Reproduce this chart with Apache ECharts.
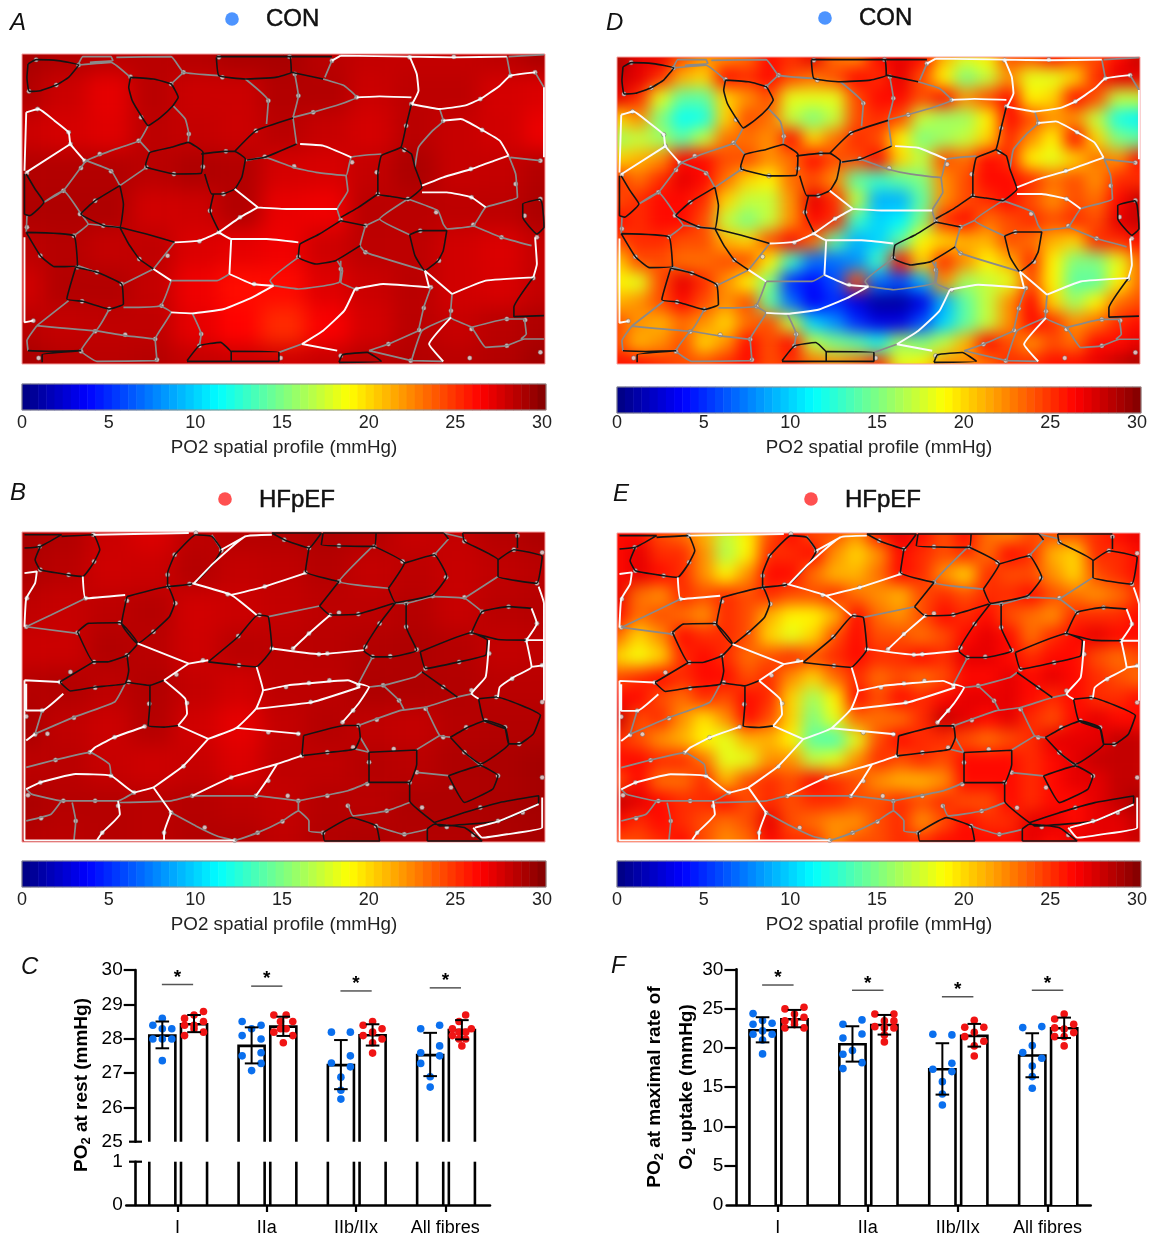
<!DOCTYPE html>
<html><head><meta charset="utf-8">
<style>
html,body{margin:0;padding:0;background:#fff;width:1154px;height:1234px;overflow:hidden}
.wrap{position:absolute;overflow:hidden}
.field{position:absolute}
#main{position:absolute;left:0;top:0;width:1154px;height:1234px;z-index:5;filter:blur(0.4px)}
</style>
<script src="https://cdn.jsdelivr.net/npm/echarts@6/dist/echarts.min.js"></script>
</head><body>
<div id="fields"></div>
<div id="main"></div>
<script>
/* ---------- PO2 field readings (mmHg), rows top to bottom ---------- */
const fieldA=[
[28.8,28.5,28.3,28.3,28.4,28.7,28.8,28.3,28,28,28,28.2,28.7],
[28.5,27.8,27,28.3,27.8,27.8,28.5,28.5,27.8,28.2,28.2,27.5,27.3],
[27.8,27.5,27.2,28.2,28,27.8,28.3,27.9,27.5,28.3,27.9,27.6,26.8],
[28.5,28.5,28.5,28.3,28.6,28.5,27.5,27.4,28,28.7,27.9,28,28.5],
[28.6,28.6,28.6,27.6,27.7,28.5,26.9,26.7,28.3,28.3,28.2,28.2,28.7],
[28.2,28.4,28,28.1,27.3,27,26.7,27.7,28.2,28.2,27.6,27.3,28],
[27.6,28.5,28.5,28,26.7,25.9,26,27.2,27.8,28.3,27.6,27.4,28],
[28.3,28,28.1,28.1,27,26.2,25,26.4,27.5,28.3,27.9,28.3,28.6],
[28.8,28.4,28.3,28.4,28,27.8,27.7,27.9,28.3,28.5,28.3,28.5,29]];
const fieldB=[
[28.8,28.5,27.8,27.3,28.2,28.4,28.4,28.6,28.4,27.9,28,28.4,28.7],
[28.6,28.3,27.7,27.8,28.4,28,28.1,28.4,28,28.2,27.9,28.1,28.3],
[28.1,27.9,28.2,28.4,27.6,27.8,28,28.2,28.2,28.4,27.9,28.3,28.4],
[27.8,27.8,28.5,28.3,27.7,28.3,28.2,28.3,28.5,28.6,28.4,28,28.1],
[28.4,28.5,28.2,28.5,28,27.6,28.2,28.2,28.6,28.6,28.5,28.3,28.3],
[28.7,28.1,27.8,28.4,27.6,27,28,28.4,28.1,28,28.4,28.5,28.5],
[28.2,28.3,27.9,27.7,27.9,27.3,28.1,28.1,28.4,28.3,28.6,28.7,28.9],
[28.7,28.4,28.4,28.3,28.4,28.2,28,28.4,28.3,28.6,28.6,28.7,28.9],
[28.4,28.3,28.4,28.3,28.5,28.5,28.1,28.5,28.6,28.5,28.5,28.7,28.8]];
const fieldD=[
[29,27,27,24,22,22,23,26,25,27,23,22,26,27,26,21,18,19,24,24,26,24,24,26,28],
[28,27,25,21,20,26,25,26,24,23,24,26,25,27,24,19,15,17,22,18,18,20,25,27,27],
[27,25,18,14,14,20,22,24,18,18,18,24,26,26,24,26,22,24,26,19,20,26,24,17,17],
[20,22,15,11.5,12,20,24,23,17,15,17,24,25,24,17,16,16,19,26,24,22,22,17,12,11],
[16,17,16,14,17,23,23,22,26,20,23,25,24,19,15,16,17,20,25,22,19,26,20,15,14],
[20,21,22,26,26,24,24,22,23,26,24,24,26,20,17,24,23,26,25,19,18,20,23,22,26],
[25,23,25,27,26,23,20,19,23,24,22,14,13,14,15,22,24,26,26,25,23,24,22,25,25],
[24,25,26,26,25,20,17,17,22,27,25,17,9,9,14,22,24,25,26,24,22,24,23,26,28],
[26,25,26,26,24,17,15,17,22,26,25,13,10,11,15,25,26,23,24,25,24,25,24,27,28],
[24,25,25,24,24,21,20,24,26,23,14,9,10,14,19,20,21,21,24,23,21,20,25,25,26],
[20,24,24,23,23,24,24,19,13,7,7,8,13,26,20,25,22,19,21,25,19,15,15,18,23],
[19,18,24,27,25,22,19,15,5,4,6,24,7,6,9,22,16,17,18,24,19,14,14,19,23],
[21,22,24,26,24,22,24,14,7,3.5,5,3,1,1,3,9,14,17,22,26,20,16,19,23,24],
[24,22,21,23,22,20,23,24,17,10,8,5,3,3,6,10,14,17,22,26,25,22,23,25,26],
[24,21,22,24,20,22,26,24,26,17,15,14,12,16,15,17,21,26,24,22,24,23,26,26,27],
[26,26,25,24,24,25,26,24,25,23,22,23,25,18,19,22,22,23,25,25,26,26,27,28,29]];
const fieldE=[
[26,26,24,23,21,17,19,24,26,24,24,22,26,27,26,24,26,23,22,24,24,24,25,26,27],
[26,27,25,25,22,16.5,19,25,25,26,22,20,22,26,25,24,25,23,26,25,21,20,25,25,26],
[26,27,26,25,22,19,22,26,26,23,21,21,23,26,25,22,20,25,24,24,22,20,24,25,26],
[27,23,22,25,24,25,24,25,24,24,25,23,22,21,24,25,24,25,25,26,24,23,22,23,25],
[26,23,24,23,22,25,24,21,19,19,21,26,23,22,24,26,25,26,24,23,22,25,25,25,26],
[23,20,22,26,25,25,24,20,18,20,24,26,24,24,23,24,26,27,26,23,25,26,27,26,26],
[20,18.5,20,25,26,25,23,24,25,24,25,26,25,25,26,25,27,27,26,25,26,26,24,23,24],
[24,25,26,25,26,26,24,25,22,20,23,25,23,24,23,24,26,26,27,26,27,26,25,24,23],
[26,26,24,23,25,24,26,25,20,16,19,26,24,26,25,26,27,27,27,26,25,26,25,25,26],
[28,24,25,22,19.5,22,26,24,20,15,18,23,23,23,25,28,27,26,27,25,24,26,27,26,26],
[25,24,22,21,19,18,21,21,19,14,13.5,18,24,26,25,25,24,23,24,25,27,27,27,28,28],
[26,26,25,25,23,18,18,22,22,17,18,22,25,24,25,24,26,26,26,25,26,27,28,28,28],
[24,26,23,23,25,21,24,25,24,26,25,24,22,21,21,22,26,26,26,25,26,27,27,28,28],
[28,27,26,25,25,26,24,25,24,25,25,24,24,25,24,25,24,24,26,25,26,26,27,28,29],
[26,25,26,25,24,23,24,27,24,23,22,22,24,25,22,24,26,25,25,27,27,26,27,27,28],
[24,24,25,26,24,22,23,26,25,25,22,24,24,25,25,26,26,26,26,27,26,27,27,27,28]];

/* ---------- fibre outlines ---------- */
const frameCon=[48,1528,170,1100];
const frameHf=[48,1528,157,1083];
const conBlack=[
[[65,200],[88,187],[150,190],[208,203],[180,240],[145,263],[100,280],[68,282],[62,240],[65,200]],
[[355,240],[420,245],[470,260],[490,300],[475,325],[440,360],[405,385],[385,355],[360,310],[350,270],[355,240]],
[[598,180],[605,235],[680,245],[765,240],[810,225],[805,178],[598,178]],
[[805,178],[925,178]],[[810,225],[900,245]],
[[398,500],[410,465],[470,450],[518,435],[560,465],[555,528],[480,530],[400,510],[398,500]],
[[555,470],[620,462],[650,462],[680,485],[670,540],[650,575],[615,590],[585,590],[565,530]],
[[650,462],[710,400],[815,362]],[[825,440],[735,480],[685,488]],
[[1150,320],[1135,385],[1120,450],[1065,475],[1055,530],[1055,590],[1090,597],[1140,605],[1180,570],[1160,510],[1150,470],[1120,450]],
[[590,590],[580,640],[605,700]],
[[60,530],[85,575],[110,615],[70,655],[55,650],[55,530]],
[[325,565],[255,610],[215,650],[280,685],[325,690],[335,620],[325,565]],
[[60,705],[195,715],[205,805],[140,808],[100,775],[60,705]],
[[325,690],[400,710],[480,735]],[[325,690],[350,740],[380,785],[420,815]],
[[200,810],[175,905],[220,912],[295,935],[335,920],[330,860],[260,825],[200,810]],
[[950,670],[1020,685]],[[950,670],[890,710],[835,740],[830,780],[880,800],[935,790],[1005,745]],[[950,660],[1000,630],[1055,590]],
[[1145,712],[1175,700],[1250,700],[1240,760],[1225,790],[1188,820],[1160,775],[1145,712]],
[[1515,605],[1465,620],[1465,660],[1505,710],[1525,690],[1520,620],[1515,605]],
[[1495,840],[1440,930],[1440,958],[1525,955]],
[[65,1060],[130,1062],[215,1060]],[[105,1095],[105,1072],[215,1060]],
[[515,1090],[550,1045],[610,1035],[640,1065],[640,1092],[515,1092]],
[[640,1062],[775,1065],[775,1092],[640,1092]],
[[945,1095],[955,1072],[1025,1065],[1065,1092],[945,1095]]];
const conGrey=[
[[208,203],[300,195],[355,240]],[[208,200],[220,178],[300,178],[305,190],[240,195]],
[[315,180],[470,178],[505,225],[605,235]],[[470,260],[505,225]],
[[475,325],[510,365],[520,410],[518,435]],
[[405,385],[380,430],[300,460],[230,490],[215,510],[165,580],[110,615]],
[[380,430],[410,465]],[[230,490],[300,520],[325,565]],[[400,510],[325,565]],
[[680,245],[745,310],[740,380]],
[[820,230],[830,295],[815,360],[870,345],[950,320],[995,300],[960,265],[900,245]],
[[815,362],[825,440]],[[925,190],[905,240]],
[[1230,335],[1240,370],[1210,400],[1170,450],[1160,510]],
[[680,490],[735,480],[815,510],[880,525],[965,535],[980,480],[1065,470]],
[[965,535],[970,580],[940,635],[950,670]],
[[1420,178],[1430,235]],[[1425,178],[1525,172]],[[1500,225],[1525,270]],
[[1425,475],[1445,530],[1450,600],[1360,630],[1325,685],[1250,695]],
[[1430,480],[1515,490]],[[1325,685],[1405,720],[1490,745]],
[[1140,605],[1225,640],[1240,680],[1250,695]],[[1140,605],[1060,665],[1145,712]],
[[1020,685],[1060,665]],[[1020,685],[1005,745],[1020,765],[1188,820]],
[[1265,890],[1260,960],[1320,990],[1360,1050],[1420,1045],[1470,1025],[1525,1025]],
[[1260,960],[1180,1000],[1150,1090]],[[1205,870],[1185,930],[1170,1000]],
[[1470,965],[1475,1010],[1460,1025]],[[1320,990],[1420,965],[1470,965]],
[[1150,1090],[1030,1060]],[[1030,1060],[1085,1040],[1170,1000]],
[[420,815],[335,860]],[[470,850],[600,850],[635,830]],
[[470,850],[440,925],[335,930]],[[440,925],[470,945],[425,1025],[430,1090]],
[[180,910],[90,985]],[[90,985],[255,1000],[295,935]],[[90,985],[62,1030],[65,1060]],
[[255,1000],[340,1015],[425,1025]],[[255,1000],[215,1060],[260,1092],[430,1090]],
[[530,948],[555,1010],[550,1045]],[[760,865],[750,850],[830,780]],
[[760,865],[830,875],[945,855],[950,790]],[[940,790],[955,820],[950,855],[990,875]],
[[840,1040],[775,1065]],[[215,650],[235,680],[195,715]],[[62,655],[60,705]],
[[235,680],[325,690]],[[205,805],[260,825]],[[480,735],[420,815]],
[[110,615],[165,580],[215,650]],[[1150,1090],[1240,1092]]];
const conWhite=[
[[60,345],[95,335],[140,370],[180,405],[185,440],[225,490]],
[[60,345],[55,520]],[[55,720],[55,975],[80,970]],[[60,525],[185,440]],
[[1145,178],[1165,230],[1170,280],[1152,320]],[[950,175],[1145,178],[1270,180],[1420,178]],
[[925,190],[950,175]],
[[995,300],[1060,297],[1150,300]],
[[1150,320],[1230,335],[1300,325],[1345,305],[1400,265],[1430,235],[1500,225]],
[[1240,370],[1290,365],[1350,398],[1400,430],[1425,475]],
[[1180,565],[1240,540],[1320,515],[1385,490],[1425,475]],
[[1180,585],[1250,585],[1320,600],[1360,630]],
[[715,630],[800,635],[940,635]],
[[605,705],[640,725],[740,725],[830,735]],[[640,725],[635,830]],
[[605,705],[550,730],[480,735]],[[650,575],[715,630]],[[605,705],[665,660],[715,630]],
[[835,440],[900,445],[980,480]],
[[420,815],[470,850]],[[635,830],[700,860],[760,865]],
[[990,875],[1070,860],[1200,870]],[[1265,890],[1360,850],[1495,840]],
[[990,875],[960,940],[900,1000],[840,1040]],
[[760,865],[700,900],[620,935],[530,948],[470,945]],
[[840,1040],[940,1060]],[[1200,870],[1188,820],[1265,890]],
[[1500,720],[1505,800],[1495,840]],[[1525,270],[1525,480]],
[[1240,1092],[1200,1040],[1262,960]]];
const conNodes=[[88,187],[208,203],[145,263],[68,282],[92,335],[180,405],[185,440],[62,527],[225,490],[268,470],[378,430],[385,360],[355,238],[470,260],[505,225],[605,180],[615,240],[745,310],[830,295],[805,178],[925,190],[820,230],[995,300],[872,345],[520,410],[625,462],[560,508],[478,530],[400,510],[300,522],[215,512],[165,580],[255,610],[212,650],[278,685],[62,690],[195,715],[100,775],[205,810],[260,825],[330,860],[218,912],[295,935],[380,785],[460,775],[550,732],[605,705],[665,660],[580,640],[618,590],[735,478],[818,507],[710,400],[982,495],[1052,525],[1055,590],[1140,605],[1135,385],[1130,458],[1150,320],[1145,180],[1270,178],[1430,235],[1500,225],[1345,305],[1240,370],[1350,398],[1318,515],[1445,560],[1515,490],[1515,605],[1470,655],[1505,720],[1320,600],[1220,645],[1175,700],[1325,682],[1405,720],[1020,685],[950,668],[1020,765],[950,815],[830,778],[705,860],[995,875],[1205,870],[1228,790],[1495,842],[1185,932],[1262,940],[1172,998],[1320,995],[1420,965],[1472,968],[1420,1045],[1315,1082],[1148,1090],[1085,1040],[950,1075],[780,1082],[550,1045],[555,1010],[430,1087],[425,1025],[340,1012],[255,1002],[215,1062],[95,1082],[80,970],[443,925],[1515,1065]];

const hfBlack=[
[[55,165],[160,165],[100,200],[55,205]],
[[160,170],[250,165],[268,210],[250,250],[220,290],[180,285],[100,270],[85,240],[100,200]],
[[345,350],[460,320],[480,370],[465,410],[420,455],[375,490],[330,430],[345,350]],
[[205,455],[235,430],[325,428],[375,490],[345,525],[290,545],[250,545],[205,455]],
[[155,605],[250,545]],[[155,605],[185,632],[255,620],[340,610],[350,570],[345,525]],
[[340,605],[410,615],[450,600]],[[410,615],[410,670],[405,735],[450,740],[490,735]],
[[480,225],[540,165],[585,170],[612,210],[590,250],[535,310],[460,320],[460,280],[480,225]],
[[575,545],[660,470],[715,405],[745,410],[755,505],[710,560],[660,555],[575,545]],
[[755,160],[895,160],[860,205],[790,180],[755,160]],
[[900,160],[895,195],[1045,200],[1050,160],[900,160]],
[[1050,160],[1240,160],[1255,178]],
[[860,205],[850,275],[945,305]],[[1045,200],[1130,250],[1085,325]],
[[1130,250],[1215,225],[1250,290],[1210,345],[1105,368],[1085,325]],
[[1295,160],[1300,185],[1395,240],[1395,290],[1505,310],[1520,230],[1440,210],[1395,240]],
[[1450,165],[1450,205]],[[1295,160],[1450,160]],
[[890,378],[945,305]],[[890,378],[920,405],[1000,402],[1100,370]],
[[1105,368],[1060,430],[1015,510],[1040,530],[1090,530],[1165,510],[1135,440],[1135,370]],
[[1175,515],[1320,458],[1365,480],[1360,525],[1285,545],[1190,565],[1175,515]],
[[1320,458],[1395,478],[1475,480]],[[1320,458],[1350,395],[1425,380],[1490,385]],
[[1180,575],[1240,620],[1280,650]],
[[1340,655],[1390,650],[1515,705],[1495,760],[1455,790],[1425,790],[1415,745],[1355,720],[1340,655]],
[[1260,770],[1310,740],[1360,720],[1415,740],[1425,790],[1345,850],[1300,815],[1260,770]],
[[845,765],[960,735],[1000,735],[1005,770],[990,805],[920,815],[840,825],[845,765]],
[[1030,815],[1165,808],[1165,850],[1145,905],[1085,905],[1030,905],[1030,815]],
[[1145,905],[1145,960],[1215,1025]],
[[1255,885],[1345,855],[1395,885],[1380,925],[1300,965],[1255,885]],
[[1215,1025],[1300,995],[1400,965],[1510,945],[1510,965],[1400,1020],[1230,1035],[1215,1025]],
[[1195,1080],[1195,1045],[1215,1030],[1300,1040],[1350,1080],[1195,1080]],
[[900,1055],[980,1010],[1050,1035],[1060,1080],[905,1080],[900,1055]]];
const hfGrey=[
[[228,355],[130,405],[60,440]],[[60,440],[205,460]],[[85,760],[195,710],[310,665],[340,610]],
[[105,690],[85,760]],[[60,860],[140,838],[240,815],[295,850],[300,885]],
[[60,925],[75,940],[160,960],[320,960],[365,935]],
[[160,960],[130,1000],[60,1020]],[[190,965],[200,1020],[195,1078]],
[[325,965],[470,960],[530,945],[710,945],[830,960]],[[830,960],[830,990]],
[[830,960],[970,930],[1030,905]],[[970,970],[985,1005],[1080,990],[1145,965]],
[[1050,1035],[1130,1060],[1195,1045]],
[[1000,735],[1120,690],[1190,680],[1280,650],[1325,640]],
[[1230,765],[1160,810]],[[1030,620],[1070,615],[1160,590],[1180,575]],
[[1070,615],[1115,660],[1130,690]],[[1000,610],[1040,530]],
[[745,410],[890,378]],[[585,165],[612,210]],[[1040,200],[945,305],[1085,325]],
[[1100,370],[1135,370],[1210,350],[1300,355],[1350,395]],[[1300,355],[1395,290]],
[[1240,160],[1300,175]],[[1255,178],[1215,225]],[[1165,875],[1255,885]],[[1300,815],[1345,855]],
[[470,995],[540,1035],[600,1065],[650,1078],[715,1055],[785,1020],[830,990],[860,1020],[860,1050],[900,1055]],
[[1190,680],[1230,765],[1260,770]],[[1005,770],[1030,815]],[[990,805],[1030,815]]];
const hfWhite=[
[[250,165],[520,160]],[[55,280],[90,275],[85,310],[60,355],[55,440]],
[[220,290],[228,355],[340,345]],[[55,600],[155,605]],[[60,610],[60,690],[105,690],[165,640]],
[[60,780],[85,760]],[[55,600],[55,1078],[650,1078]],
[[255,800],[310,770],[395,738]],[[490,735],[575,775]],
[[575,775],[655,742],[710,685],[730,630],[712,560]],[[655,742],[835,760]],
[[575,775],[505,855],[420,920]],[[420,920],[365,935],[300,885],[200,880],[100,905],[60,925]],
[[420,920],[470,995]],[[240,815],[255,800]],[[320,960],[325,1000],[275,1055],[260,1078]],
[[470,995],[450,1055],[450,1078]],[[530,945],[640,890],[770,850],[840,825]],
[[770,850],[740,900],[710,945]],[[955,725],[1000,670],[1030,620],[1000,610]],
[[730,630],[800,615],[970,600],[1005,615]],[[710,685],[870,665],[1005,620]],
[[755,505],[890,522],[1015,510]],[[815,505],[860,460],[920,405]],
[[712,405],[640,345],[530,310]],[[640,345],[735,320],[850,280]],
[[535,310],[590,250],[680,170],[755,165]],[[680,170],[612,210]],
[[375,490],[520,550]],[[520,550],[575,540]],[[520,550],[450,600]],
[[450,600],[510,655],[515,700],[490,735]],
[[1475,480],[1490,560],[1440,590],[1400,620],[1395,650]],[[1475,480],[1525,480]],
[[1370,480],[1360,590],[1320,640],[1340,655]],[[1490,560],[1525,555]],
[[1510,320],[1525,370],[1525,660]],[[1490,385],[1505,430],[1475,480]],
[[1325,1040],[1350,1070],[1420,1060],[1520,1040],[1520,950]],[[1330,1040],[1400,1020],[1510,970]]];
const hfNodes=[[98,200],[250,165],[252,245],[180,285],[100,270],[62,355],[228,355],[60,440],[205,458],[325,428],[345,362],[482,370],[420,455],[345,525],[252,545],[185,575],[155,605],[255,622],[350,605],[408,670],[395,738],[105,690],[60,708],[85,762],[120,760],[195,712],[310,770],[240,815],[143,838],[300,885],[100,905],[65,943],[165,960],[255,960],[320,975],[365,935],[200,1020],[102,1012],[275,1055],[450,1055],[470,995],[505,857],[640,890],[745,900],[710,945],[530,945],[800,945],[830,960],[912,945],[970,975],[1025,910],[1030,845],[1080,990],[1130,1060],[1050,1035],[900,1055],[785,1022],[715,1055],[650,1078],[565,1040],[1180,980],[1145,905],[1165,875],[1100,805],[985,800],[912,815],[840,825],[830,760],[745,755],[1000,735],[955,725],[1052,718],[985,690],[1115,660],[1190,685],[1240,770],[1305,740],[1360,720],[1415,740],[1455,790],[1300,815],[1345,852],[1395,885],[1262,920],[1345,980],[1395,1020],[1465,995],[1250,1038],[1325,1062],[1520,890],[1520,665],[1390,650],[1435,595],[1520,555],[1475,480],[1370,520],[1320,630],[1240,620],[1190,565],[1285,545],[1165,508],[1090,528],[1040,530],[1020,500],[1135,440],[1060,430],[1000,402],[945,398],[920,405],[888,522],[912,520],[815,505],[860,460],[755,505],[662,555],[660,468],[720,405],[560,540],[485,583],[515,668],[630,343],[735,320],[850,278],[860,205],[790,180],[945,198],[1045,200],[945,305],[1125,245],[1215,225],[1248,292],[1210,348],[1300,352],[1350,395],[1425,380],[1505,430],[1320,458],[1300,185],[1440,210],[1450,168],[1520,218],[1505,310],[1135,370],[460,285],[480,225],[540,160],[612,212],[522,312],[462,320],[1070,615],[1000,615],[918,600],[860,608],[865,665],[795,620]];

/* ---------- bar panels ---------- */
const categories=['I','IIa','IIb/IIx','All fibres'];
const restCon=[28.09,27.79,27.23,27.52];
const restHf=[28.42,28.35,28.10,28.25];
const restConSd=[[27.72,28.5],[27.28,28.33],[26.53,27.96],[26.91,28.17]];
const restHfSd=[[28.19,28.69],[28.08,28.64],[27.80,28.42],[27.98,28.54]];
const restSig=[29.58,29.53,29.39,29.48];
const restConDots=[
[[0,28.59],[-1,28.39],[0,28.29],[1,28.29],[-1,27.99],[0,27.99],[1,27.99],[0,27.36]],
[[-1,28.5],[1,28.39],[0,28.29],[-1,28.09],[1,27.99],[-1,27.5],[1,27.59],[1,27.28],[0,27.07]],
[[-1,28.19],[1,28.19],[1,27.5],[-1,27.29],[1,27.18],[0,26.88],[0,26.5],[0,26.24]],
[[-1,28.29],[1,28.39],[1,27.79],[-1,27.59],[1,27.5],[-1,27.28],[0,26.89],[0,26.59]]];
const restHfDots=[
[[1,28.79],[0,28.69],[-1,28.59],[1,28.5],[0,28.39],[-1,28.39],[0,28.29],[1,28.19],[-1,28.09]],
[[-1,28.69],[0.3,28.69],[1,28.5],[-0.3,28.5],[-0.3,28.29],[0.3,28.29],[-1,28.19],[1,28.09],[0,27.88]],
[[-1,28.39],[0,28.5],[1,28.29],[0,28.19],[-1,28.09],[1,27.99],[0,27.88],[0,27.58]],
[[0.4,28.69],[-0.3,28.5],[-1,28.29],[1,28.29],[-0.3,28.19],[0.4,28.19],[-1,28.09],[-0.3,27.99],[0.4,27.99],[0,27.79]]];
const maxCon=[22.24,20.46,17.28,19.02];
const maxHf=[23.64,22.92,21.52,22.5];
const maxConSd=[[20.7,23.9],[18.25,22.75],[14.05,20.59],[16.26,21.86]];
const maxHfSd=[[22.62,24.83],[21.69,24.19],[20.16,23.05],[21.26,23.85]];
const maxSig=[28,27.33,26.5,27.33];
const maxConDots=[
[[-1,24.36],[0,23.47],[-1,23],[1,23.13],[-1,21.73],[0,22.16],[1,21.73],[0,21],[0,19.23]],
[[1,23.56],[-1,23],[1,21.77],[-1,21.26],[-1,19.18],[0,19.65],[1,18.12],[-1,17.36]],
[[-1,21.73],[1,21.65],[1,18.04],[-1,17.28],[1,16.98],[0,15.7],[0,14.13],[0,12.73]],
[[-1,22.58],[1,22.71],[0,20.29],[-1,19.4],[1,18.68],[0,17.7],[0,16.34],[0,14.86]]];
const maxHfDots=[
[[1,25.17],[-1,24.96],[0,24.32],[-1,23.43],[1,23.9],[0,23.43],[-1,22.54],[0,22.96],[1,22.54]],
[[-1,24.32],[1,24.32],[0,23.43],[1,23.43],[-1,22.7],[0,22.54],[1,22.54],[0,21.65],[0,20.76]],
[[0,23.5],[-1,22.62],[1,22.62],[0,21.99],[-1,21.43],[1,20.84],[0,20.25],[0,18.97]],
[[0,24.32],[-1,23.68],[1,23],[-1,22.54],[0,22.41],[1,21.94],[0,21.43],[-1,21.43],[0,20.25]]];

const tickValues=[0,5,10,15,20,25,30];
const jet=['#000080','#0000ff','#0080ff','#00ffff','#80ff80','#ffff00','#ff8000','#ff0000','#800000'];
const FONT='"Liberation Sans",Arial,sans-serif';

/* ---------- blurred field layers below the main chart ---------- */
const panels={
 A:{x:22,y:54,w:523,h:310,field:fieldA,blur:10,bg:'#c00000'},
 B:{x:22,y:532,w:523,h:310,field:fieldB,blur:10,bg:'#b80000'},
 D:{x:617,y:57,w:523,h:307,field:fieldD,blur:8,bg:'#ff6000'},
 E:{x:617,y:533,w:523,h:309,field:fieldE,blur:8,bg:'#ff4000'}
};
const host=document.getElementById('fields');
Object.values(panels).forEach(p=>{
 const ny=p.field.length,nx=p.field[0].length;
 const hx=p.w/(nx-1)/2,hy=p.h/(ny-1)/2;
 const wrap=document.createElement('div');wrap.className='wrap';
 wrap.style.cssText+=`left:${p.x}px;top:${p.y}px;width:${p.w}px;height:${p.h}px;background:${p.bg}`;
 const d=document.createElement('div');d.className='field';
 d.style.cssText+=`left:${-hx}px;top:${-hy}px;width:${p.w+2*hx}px;height:${p.h+2*hy}px;filter:blur(${p.blur}px)`;
 wrap.appendChild(d);host.appendChild(wrap);
 const data=[];p.field.forEach((row,r)=>row.forEach((v,c)=>data.push([c,r,v])));
 const ch=echarts.init(d,null,{renderer:'canvas'});
 ch.setOption({animation:false,
  grid:{left:0,right:0,top:0,bottom:0,outerBoundsMode:'none'},
  xAxis:{type:'category',show:false,data:p.field[0].map((_,i)=>i)},
  yAxis:{type:'category',show:false,inverse:true,data:p.field.map((_,i)=>i)},
  visualMap:{show:false,type:'continuous',min:0,max:30,dimension:2,inRange:{color:jet}},
  series:[{type:'heatmap',data,silent:true,progressive:0}]});
});

/* ---------- main chart ---------- */
const grids=[],xAxes=[],yAxes=[],series=[];
function addGrid(g,x,y){g.outerBoundsMode='none';grids.push(g);const gi=grids.length-1;
 x.gridIndex=gi;y.gridIndex=gi;xAxes.push(x);yAxes.push(y);
 return [xAxes.length-1,yAxes.length-1];}

function breakApart(set){const out=[];set.forEach(c=>{c.forEach(p=>out.push(p));out.push(['-','-']);});return out;}
function addNetwork(p,frame,black,grey,white,nodes){
 const [xi,yi]=addGrid({left:p.x,top:p.y,width:p.w,height:p.h,show:true,borderColor:'#f5a0a0',borderWidth:1,backgroundColor:'transparent'},
  {type:'value',show:false,min:frame[0],max:frame[1]},
  {type:'value',show:false,inverse:true,min:frame[2],max:frame[3]});
 [[grey,'#8a8a8a',1.7],[black,'#141414',1.6],[white,'#fbfbfb',1.9]].forEach(([set,color,w])=>{
  series.push({type:'line',xAxisIndex:xi,yAxisIndex:yi,silent:true,showSymbol:false,smooth:0.12,connectNulls:false,
   lineStyle:{color,width:w,opacity:1},data:breakApart(set)});
 });
 series.push({type:'scatter',xAxisIndex:xi,yAxisIndex:yi,silent:true,symbolSize:4.5,
  itemStyle:{color:'#e6e6e6',borderColor:'#666',borderWidth:0.6},data:nodes});
}
addNetwork(panels.A,frameCon,conBlack,conGrey,conWhite,conNodes);
addNetwork(panels.B,frameHf,hfBlack,hfGrey,hfWhite,hfNodes);
addNetwork(panels.D,frameCon,conBlack,conGrey,conWhite,conNodes);
addNetwork(panels.E,frameHf,hfBlack,hfGrey,hfWhite,hfNodes);

/* colour bars */
const barLevels=Array.from({length:64},(_,i)=>(i+0.5)*30/64);
const colorbarSeries=[];
function addColorbar(x,y,w,h,margin,gap){
 grids.push({left:x,top:y,width:w,height:h,show:true,borderColor:'#8c8c8c',borderWidth:1,z:3,outerBoundsMode:'none'});
 const gi=grids.length-1;
 xAxes.push({gridIndex:gi,type:'category',show:false,data:barLevels.map((_,i)=>i)});
 const xi=xAxes.length-1;
 xAxes.push({gridIndex:gi,type:'value',min:0,max:30.23,position:'bottom',
  axisLine:{show:false},splitLine:{show:false},
  axisTick:{show:true,inside:true,length:5,lineStyle:{color:'#444',width:1},customValues:tickValues},
  axisLabel:{color:'#222',fontSize:18,fontFamily:FONT,margin,customValues:tickValues},
  name:'PO2 spatial profile (mmHg)',nameLocation:'middle',nameGap:gap,
  nameTextStyle:{color:'#222',fontSize:18.8,fontFamily:FONT}});
 yAxes.push({gridIndex:gi,type:'category',show:false,data:['v']});
 const yi=yAxes.length-1;
 series.push({type:'heatmap',xAxisIndex:xi,yAxisIndex:yi,silent:true,progressive:0,
  data:barLevels.map((v,i)=>[i,0,v])});
 colorbarSeries.push(series.length-1);
}
addColorbar(22,384,524,26,4,28);
addColorbar(22,861,524,26,4,28);
addColorbar(617,387,524,26,1,25);
addColorbar(617,861,524,26,4,28);

/* bar panels */
const CON=-0.17,HF=0.185,HW=0.146,STEP=0.106;
const DOT_BLUE='#0a6fee',DOT_RED='#f01414';
function barItem(base,top,closed){
 return function(params,api){
  const x=api.value(0),v=api.value(1);
  const b=base,t=Math.min(v,top);
  const pts=[api.coord([x-HW,b]),api.coord([x-HW,t]),api.coord([x+HW,t]),api.coord([x+HW,b])];
  if(closed) return {type:'polyline',shape:{points:pts},style:{fill:'#fff',stroke:'#000',lineWidth:2.6}};
  return {type:'group',children:[
   {type:'line',shape:{x1:pts[0][0],y1:pts[0][1],x2:pts[1][0],y2:pts[1][1]},style:{stroke:'#000',lineWidth:2.6}},
   {type:'line',shape:{x1:pts[3][0],y1:pts[3][1],x2:pts[2][0],y2:pts[2][1]},style:{stroke:'#000',lineWidth:2.6}}]};
 };
}
function errItem(params,api){
 const x=api.value(0),lo=api.value(1),hi=api.value(2);
 const a=api.coord([x,lo]),b=api.coord([x,hi]);
 const cap=6.8,st={stroke:'#000',lineWidth:2};
 return {type:'group',children:[
  {type:'line',shape:{x1:a[0],y1:a[1],x2:b[0],y2:b[1]},style:st},
  {type:'line',shape:{x1:a[0]-cap,y1:a[1],x2:a[0]+cap,y2:a[1]},style:st},
  {type:'line',shape:{x1:b[0]-cap,y1:b[1],x2:b[0]+cap,y2:b[1]},style:st}]};
}
function sigItem(params,api){
 const x=api.value(0),y=api.value(1);
 const a=api.coord([x-0.175,y]),b=api.coord([x+0.175,y]);
 return {type:'group',children:[
  {type:'line',shape:{x1:a[0],y1:a[1],x2:b[0],y2:b[1]},style:{stroke:'#555',lineWidth:1.5}},
  {type:'text',x:(a[0]+b[0])/2,y:a[1]-7,style:{text:'*',fill:'#000',fontSize:19,fontWeight:'bold',fontFamily:FONT,align:'center',verticalAlign:'middle'}}]};
}
function addBars(xi,yi,base,top,con,hf,closed){
 [[con,CON],[hf,HF]].forEach(([vals,off])=>{
  series.push({type:'custom',xAxisIndex:xi,yAxisIndex:yi,silent:true,clip:false,encode:{x:0,y:1},
   renderItem:barItem(base,top,closed),data:vals.map((v,i)=>[i+0.5+off,v])});
 });
}
function addMarks(xi,yi,conDots,hfDots,conSd,hfSd,sig){
 [[conDots,CON,DOT_BLUE],[hfDots,HF,DOT_RED]].forEach(([groups,off,color])=>{
  const pts=[];groups.forEach((g,i)=>g.forEach(([col,v])=>pts.push([i+0.5+off+col*STEP,v])));
  series.push({type:'scatter',xAxisIndex:xi,yAxisIndex:yi,silent:true,symbolSize:7.6,z:4,itemStyle:{color,opacity:1},data:pts});
 });
 [[conSd,CON],[hfSd,HF]].forEach(([sd,off])=>{
  series.push({type:'custom',xAxisIndex:xi,yAxisIndex:yi,silent:true,z:5,encode:{x:0,y:[1,2]},renderItem:errItem,
   data:sd.map((s,i)=>[i+0.5+off,s[0],s[1]])});
 });
 series.push({type:'custom',xAxisIndex:xi,yAxisIndex:yi,silent:true,z:5,encode:{x:0,y:1},renderItem:sigItem,
  data:sig.map((v,i)=>[i+0.5,v])});
}
const axLine={show:true,onZero:false,lineStyle:{color:'#000',width:2.6}};
const axTick=(vals)=>({show:true,length:12,lineStyle:{color:'#000',width:2.2},customValues:vals});
const axLabel={color:'#000',fontSize:19,fontFamily:FONT,margin:13};
const catCenters=[0.5,1.5,2.5,3.5];
const catX=(min,max,show)=>({type:'value',min,max,splitLine:{show:false},
 axisLine:{show,onZero:false,lineStyle:{color:'#000',width:2.6}},
 axisTick:{show,length:7,lineStyle:{color:'#000',width:2.2},customValues:catCenters},
 axisLabel:{show,color:'#000',fontSize:18,fontFamily:FONT,margin:14,customValues:catCenters,formatter:v=>categories[Math.round(v-0.5)]}});

/* C upper */
let r=addGrid({left:126.3,top:970,width:363.7,height:171.7},catX(-0.0734,4,false),
 {type:'value',min:25,max:30,interval:1,offset:-9.4,splitLine:{show:false},axisLine:axLine,axisTick:axTick([26,27,28,29,30]),axisLabel:axLabel});
addBars(r[0],r[1],25,30,restCon,restHf,true);
addMarks(r[0],r[1],restConDots,restHfDots,restConSd,restHfSd,restSig);
/* C lower */
r=addGrid({left:126.3,top:1161.7,width:363.7,height:43.3},catX(-0.0734,4,true),
 {type:'value',min:0,max:1,interval:1,offset:-9.4,splitLine:{show:false},axisLine:axLine,axisTick:axTick([]),axisLabel:axLabel});
addBars(r[0],r[1],0,1,restCon,restHf,false);
/* F */
r=addGrid({left:726.7,top:969.3,width:364,height:235.7},catX(-0.069,3.98,true),
 {type:'value',min:0,max:30,interval:5,offset:-9.7,splitLine:{show:false},axisLine:axLine,axisTick:axTick([5,10,15,20,25,30]),axisLabel:axLabel});
addBars(r[0],r[1],0,30,maxCon,maxHf,true);
addMarks(r[0],r[1],maxConDots,maxHfDots,maxConSd,maxHfSd,maxSig);

const letter=(t,x,y)=>({type:'text',x,y,style:{text:t,fill:'#111',fontSize:24,fontStyle:'italic',fontFamily:FONT,align:'left',verticalAlign:'middle'}});
const legDot=(x,y,c)=>({type:'circle',shape:{cx:x,cy:y,r:6.8},style:{fill:c}});
const legTxt=(t,x,y)=>({type:'text',x,y,style:{text:t,fill:'#111',fontSize:24,fontFamily:FONT,align:'left',verticalAlign:'middle',stroke:'#111',lineWidth:0.5}});
const brk=(x1,x2,y)=>({type:'line',shape:{x1,y1:y,x2,y2:y},style:{stroke:'#000',lineWidth:2.2}});
const subRich={a:{fontSize:19,fontWeight:'bold',fontFamily:FONT,color:'#000'},s:{fontSize:13,fontWeight:'bold',fontFamily:FONT,color:'#000',verticalAlign:'bottom',padding:[9,0,0,0]}};
const rotText=(t,x,y)=>({type:'text',x,y,rotation:Math.PI/2,style:{text:t,rich:subRich,align:'center',verticalAlign:'middle'}});

const graphic=[
 letter('A',10,23),letter('B',10,493),letter('C',21,967),letter('D',606,23),letter('E',613,494),letter('F',611,966),
 legDot(232,19,'#4d94ff'),legTxt('CON',266,19),
 legDot(825,18,'#4d94ff'),legTxt('CON',859,18),
 legDot(225,499,'#ff5050'),legTxt('HFpEF',259,500),
 legDot(811,499,'#ff5050'),legTxt('HFpEF',845,500),
 brk(129,142,1141.7),brk(129,142,1161.7),
 rotText('{a|PO}{s|2}{a| at rest (mmHg)}',82,1085),
 rotText('{a|PO}{s|2}{a| at maximal rate of}',655,1087),
 rotText('{a|O}{s|2}{a| uptake (mmHg)}',687,1087)
];

const chart=echarts.init(document.getElementById('main'),null,{renderer:'canvas'});
chart.setOption({animation:false,backgroundColor:'transparent',
 grid:grids,xAxis:xAxes,yAxis:yAxes,
 visualMap:{show:false,type:'continuous',min:0,max:30,dimension:2,seriesIndex:colorbarSeries,inRange:{color:jet}},
 series,graphic:{elements:graphic}});
</script>
</body></html>
